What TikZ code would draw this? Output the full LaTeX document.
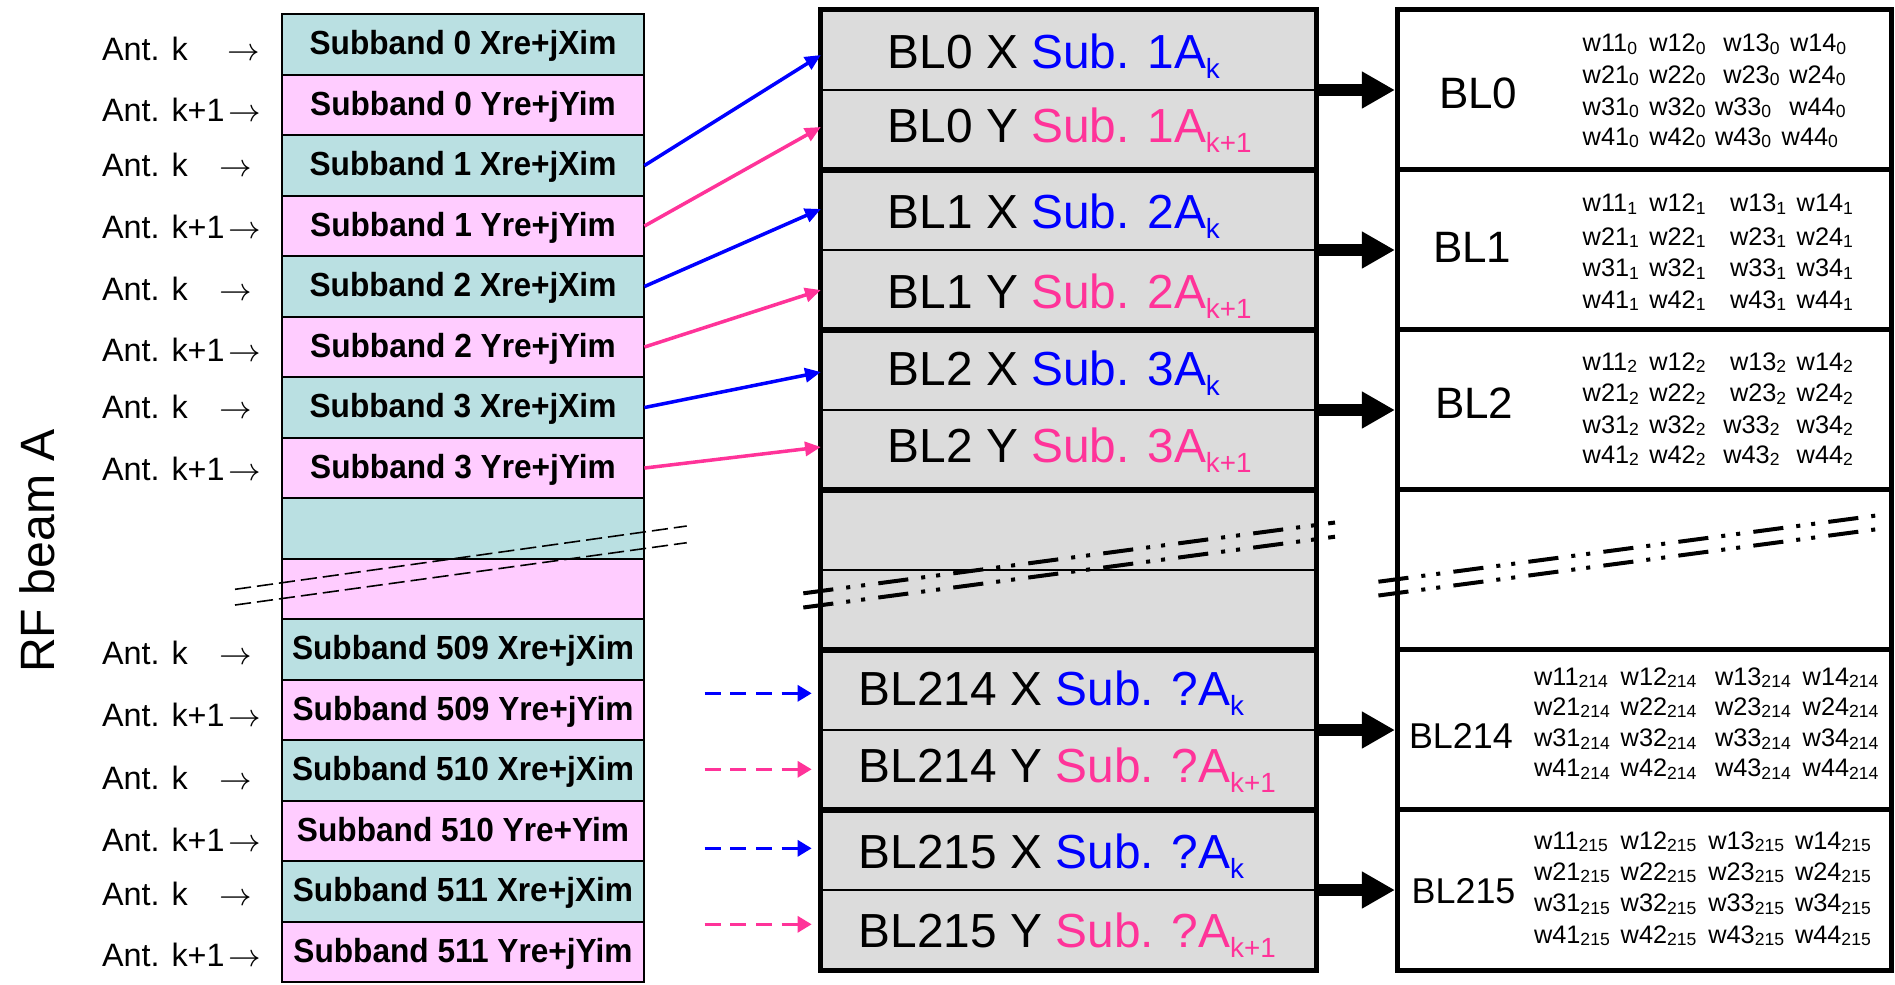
\documentclass[tikz,border=0pt]{standalone}
\usepackage{graphicx}
\usepackage{fontspec}
\setmainfont{Liberation Sans}
\usetikzlibrary{arrows.meta,calc}
\definecolor{cyanbox}{RGB}{186,224,226}
\definecolor{pinkbox}{RGB}{255,204,255}
\definecolor{grayfill}{RGB}{220,220,220}
\definecolor{myblue}{RGB}{0,0,255}
\definecolor{mypink}{RGB}{255,51,153}
\newcommand\lowsub[1]{\raisebox{-2.85pt}{\fontsize{7.9}{8}\selectfont #1}}
\newcommand\wsub[1]{\raisebox{-0.7pt}{\fontsize{5}{6}\selectfont #1}}
\newcommand\sbtxt[1]{\scalebox{0.947}[1]{#1}}
\begin{document}
\begin{tikzpicture}[x=0.01cm,y=-0.01cm,
  every node/.style={inner sep=0pt,outer sep=0pt},
  subbox/.style={draw=black,line width=0.6pt,minimum width=3.626cm,minimum height=0.605cm,
    font=\fontsize{9.5}{10}\selectfont\bfseries,text height=7.6pt,text depth=1.9pt},
  cbox/.style={subbox,fill=cyanbox},
  pbox/.style={subbox,fill=pinkbox},
  ant/.style={font=\fontsize{9.2}{11}\selectfont,anchor=base west},
  antarr/.style={font=\fontsize{9.2}{11}\selectfont,anchor=base},
  midrow/.style={draw=black,line width=0.5pt,fill=grayfill,minimum width=4.955cm,minimum height=0.8cm},
  midgrp/.style={draw=black,line width=1.42pt,minimum width=4.955cm,minimum height=1.6cm},
  rgrp/.style={draw=black,line width=1.42pt,fill=white,minimum width=4.94cm,minimum height=1.6cm},
  midtxt/.style={font=\fontsize{13.6}{16}\selectfont,anchor=base west},
  rlabel/.style={font=\fontsize{12.5}{15}\selectfont,anchor=base west},
  rlabelsm/.style={font=\fontsize{10.2}{12}\selectfont,anchor=base west},
  wtxt/.style={font=\fontsize{7.2}{8}\selectfont,anchor=base west},
  barrow/.style={myblue,line width=1pt,-{Triangle[length=4.5pt,width=4pt]}},
  parrow/.style={mypink,line width=1pt,-{Triangle[length=4.5pt,width=4pt]}},
  bdash/.style={myblue,line width=1pt,dash pattern=on 4.5pt off 2.8pt,-{Triangle[length=4pt,width=4.5pt]},shorten >=2.6pt},
  pdash/.style={mypink,line width=1pt,dash pattern=on 4.5pt off 2.8pt,-{Triangle[length=4pt,width=4.5pt]},shorten >=2.6pt},
  bigarrow/.style={line width=3.4pt,-{Triangle[length=9.4pt,width=9.9pt]},shorten >=0.7pt},
  brk/.style={line width=1.14pt,dash pattern=on 8.6pt off 3.7pt on 1.15pt off 3.13pt on 1.15pt off 3.78pt},
  brkthin/.style={line width=0.45pt,dash pattern=on 4.6pt off 1.7pt}
]
\useasboundingbox (0,0) rectangle (1895,984);

% ---------- left column ----------
\node[cbox] (L0) at (463,44.55) {\sbtxt{Subband 0 Xre+jXim}};
\node[pbox] (L1) at (463,105.05) {\sbtxt{Subband 0 Yre+jYim}};
\node[cbox] (L2) at (463,165.55) {\sbtxt{Subband 1 Xre+jXim}};
\node[pbox] (L3) at (463,226.05) {\sbtxt{Subband 1 Yre+jYim}};
\node[cbox] (L4) at (463,286.55) {\sbtxt{Subband 2 Xre+jXim}};
\node[pbox] (L5) at (463,347.05) {\sbtxt{Subband 2 Yre+jYim}};
\node[cbox] (L6) at (463,407.55) {\sbtxt{Subband 3 Xre+jXim}};
\node[pbox] (L7) at (463,468.05) {\sbtxt{Subband 3 Yre+jYim}};
\node[cbox] (L8) at (463,528.55) {};
\node[pbox] (L9) at (463,589.05) {};
\node[cbox] (L10) at (463,649.55) {\sbtxt{Subband 509 Xre+jXim}};
\node[pbox] (L11) at (463,710.05) {\sbtxt{Subband 509 Yre+jYim}};
\node[cbox] (L12) at (463,770.55) {\sbtxt{Subband 510 Xre+jXim}};
\node[pbox] (L13) at (463,831.05) {\sbtxt{Subband 510 Yre+Yim}};
\node[cbox] (L14) at (463,891.55) {\sbtxt{Subband 511 Xre+jXim}};
\node[pbox] (L15) at (463,952.05) {\sbtxt{Subband 511 Yre+jYim}};

% antenna labels
\foreach \n/\y/\t/\ax in {0/60/k/244, 1/121.7/k+1/245, 2/176.7/k/235.5, 3/238.3/k+1/245,
  4/300/k/235.5, 5/361.7/k+1/245, 6/418.3/k/235.5, 7/480/k+1/245,
  10/664/k/235.5, 11/726/k+1/245, 12/789.3/k/235.5, 13/851.7/k+1/245,
  14/905/k/235.5, 15/966.7/k+1/245}{
  \node[ant] (ant\n) at (102,\y) {Ant. \t};
  \node[antarr] (antarr\n) at (\ax,\y) {$\rightarrow$};
}

\node[font=\fontsize{13.7}{16}\selectfont,anchor=base,rotate=90] (rfbeam) at (54.7,551) {RF beam A};

% ---------- middle column ----------
\foreach \i in {0,...,11}{
  \node[midrow] (M\i) at (1068.75,{50+80*\i}) {};
}
\foreach \g in {0,...,5}{
  \node[midgrp] (MG\g) at (1068.75,{90+160*\g}) {};
}

\node[midtxt] (t0) at (887.8,68) {BL0 X \textcolor{myblue}{Sub. 1A\lowsub{k}}};
\node[midtxt] (t1) at (887.8,142) {BL0 Y \textcolor{mypink}{Sub. 1A\lowsub{k+1}}};
\node[midtxt] (t2) at (887.8,228) {BL1 X \textcolor{myblue}{Sub. 2A\lowsub{k}}};
\node[midtxt] (t3) at (887.8,308) {BL1 Y \textcolor{mypink}{Sub. 2A\lowsub{k+1}}};
\node[midtxt] (t4) at (887.8,385) {BL2 X \textcolor{myblue}{Sub. 3A\lowsub{k}}};
\node[midtxt] (t5) at (887.8,462) {BL2 Y \textcolor{mypink}{Sub. 3A\lowsub{k+1}}};
\node[midtxt] (t8) at (858.75,705) {BL214 X \textcolor{myblue}{Sub. ?A\lowsub{k}}};
\node[midtxt] (t9) at (858.75,782) {BL214 Y \textcolor{mypink}{Sub. ?A\lowsub{k+1}}};
\node[midtxt] (t10) at (858.75,868) {BL215 X \textcolor{myblue}{Sub. ?A\lowsub{k}}};
\node[midtxt] (t11) at (858.75,947) {BL215 Y \textcolor{mypink}{Sub. ?A\lowsub{k+1}}};

% ---------- right column ----------
\foreach \g in {0,...,5}{
  \node[rgrp] (RG\g) at (1644.5,{90+160*\g}) {};
}
\node[rlabel] (r0) at (1439,108) {BL0};
\node[rlabel] (r1) at (1433,262) {BL1};
\node[rlabel] (r2) at (1435,418) {BL2};
\node[rlabelsm] (r4) at (1409,748) {BL214};
\node[rlabelsm] (r5) at (1411.7,903) {BL215};

\foreach \s/\y/\a/\b/\c/\d/\xa/\xb/\xc/\xd [count=\n] in {
  0/51.7/11/12/13/14/1582.7/1649.3/1723.3/1790,
  0/83.3/21/22/23/24/1582.7/1649.3/1723.3/1789.3,
  0/115/31/32/33/44/1582.7/1649.3/1715/1789.3,
  0/145/41/42/43/44/1582.7/1649.3/1715/1781.7,
  1/211.7/11/12/13/14/1582.7/1649.3/1730/1796.7,
  1/245/21/22/23/24/1582.7/1649.3/1730/1796.7,
  1/276.7/31/32/33/34/1582.7/1649.3/1730/1796.7,
  1/308.3/41/42/43/44/1582.7/1649.3/1730/1796.7,
  2/370/11/12/13/14/1582.7/1649.3/1730/1796.7,
  2/401.7/21/22/23/24/1582.7/1649.3/1730/1796.7,
  2/433.3/31/32/33/34/1582.7/1649.3/1723.3/1796.7,
  2/463.3/41/42/43/44/1582.7/1649.3/1723.3/1796.7,
  214/685/11/12/13/14/1534/1620.7/1715/1802.7,
  214/715/21/22/23/24/1534/1620.7/1715/1802.7,
  214/746.7/31/32/33/34/1534/1620.7/1715/1802.7,
  214/776.7/41/42/43/44/1534/1620.7/1715/1802.7,
  215/849.3/11/12/13/14/1534/1620.7/1708.3/1795,
  215/880/21/22/23/24/1534/1620.7/1708.3/1795,
  215/911.7/31/32/33/34/1534/1620.7/1708.3/1795,
  215/943.3/41/42/43/44/1534/1620.7/1708.3/1795}{
  \node[wtxt] (w\n-a) at (\xa,\y) {w\a\wsub{\s}};
  \node[wtxt] (w\n-b) at (\xb,\y) {w\b\wsub{\s}};
  \node[wtxt] (w\n-c) at (\xc,\y) {w\c\wsub{\s}};
  \node[wtxt] (w\n-d) at (\xd,\y) {w\d\wsub{\s}};
}

% ---------- connectors ----------
\draw[barrow] (L2.east) -- ($(M0.west)+(0,5)$);
\draw[parrow] (L3.east) -- ($(M1.west)+(0,-3)$);
\draw[barrow] (L4.east) -- ($(M2.west)+(0,-1)$);
\draw[parrow] (L5.east) -- (M3.west);
\draw[barrow] (L6.east) -- ($(M4.west)+(0,2)$);
\draw[parrow] (L7.east) -- ($(M5.west)+(0,-3)$);

\coordinate (d8) at (704.7,693.3);
\coordinate (d9) at (704.7,769.3);
\coordinate (d10) at (704.7,848.3);
\coordinate (d11) at (704.7,924.3);
\draw[bdash] (d8) -- (d8 -| M8.west);
\draw[pdash] (d9) -- (d9 -| M9.west);
\draw[bdash] (d10) -- (d10 -| M10.west);
\draw[pdash] (d11) -- (d11 -| M11.west);

\foreach \g in {0,1,2,4,5}{
  \draw[bigarrow] (MG\g.east) -- (RG\g.west);
}

% ---------- break marks ----------
\draw[brkthin] (235,589.3) -- (686.7,526);
\draw[brkthin] (235,605) -- (686.7,542.7);
\draw[brk] (803.3,593.3) -- (1335,522.5);
\draw[brk] (803.3,607.5) -- (1335,536.7);
\draw[brk] (1378.4,581.7) -- (1880,515);
\draw[brk] (1378.4,595.5) -- (1880,528.8);
\end{tikzpicture}
\end{document}
